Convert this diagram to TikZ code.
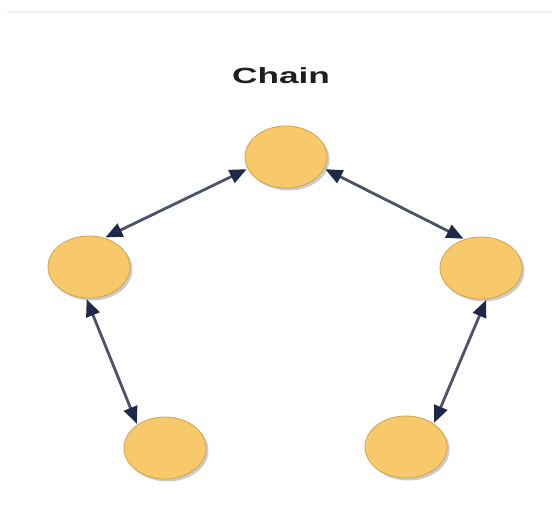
\documentclass[tikz,border=0pt]{standalone}
\usepackage{fontspec}
\setmainfont{Liberation Sans}
\usetikzlibrary{arrows.meta,shapes.geometric,shadows}

\definecolor{nodefill}{HTML}{F8C96A}
\definecolor{nodeedge}{HTML}{D4A24C}
\definecolor{linkline}{HTML}{4C5268}
\definecolor{linkhead}{HTML}{1E2848}
\definecolor{rulegrey}{HTML}{F0F0F2}

\tikzset{
  member/.style={ellipse, minimum width=82pt, minimum height=62pt, inner sep=0pt,
    fill=nodefill, draw=nodeedge, line width=0.8pt,
    drop shadow={shadow xshift=2.5pt, shadow yshift=-2.5pt, fill=black!40, opacity=0.5}},
  link/.style={draw=linkline, line width=2.8pt,
    {Triangle[length=17pt,width=14pt,fill=linkhead,color=linkhead]}-{Triangle[length=17pt,width=14pt,fill=linkhead,color=linkhead]},
    shorten <=1pt, shorten >=1pt},
  heading/.style={font=\bfseries\fontsize{22}{24}\selectfont, text=black!88, xscale=1.6}
}

\begin{document}
\begin{tikzpicture}[x=1pt,y=-1pt]
  \useasboundingbox (0,0) rectangle (552,529);
  \fill[white] (0,0) rectangle (552,529);

  % faint rule along the top
  \draw[rulegrey, line width=2pt] (7,12) -- (552,12);

  % title
  \node[heading] (title) at (281,76) {Chain};

  % members of the chain
  \node[member] (top)   at (286,157) {};
  \node[member] (left)  at (89,267)  {};
  \node[member] (right) at (481,268) {};
  \node[member] (bl)    at (165,448) {};
  \node[member] (br)    at (406,447) {};

  % two-way links
  \draw[link] (top.-163) -- (left.62);
  \draw[link] (top.-17)  -- (right.120);
  \draw[link] (left.-95) -- (bl.140);
  \draw[link] (right.-80) -- (br.40);
\end{tikzpicture}
\end{document}
